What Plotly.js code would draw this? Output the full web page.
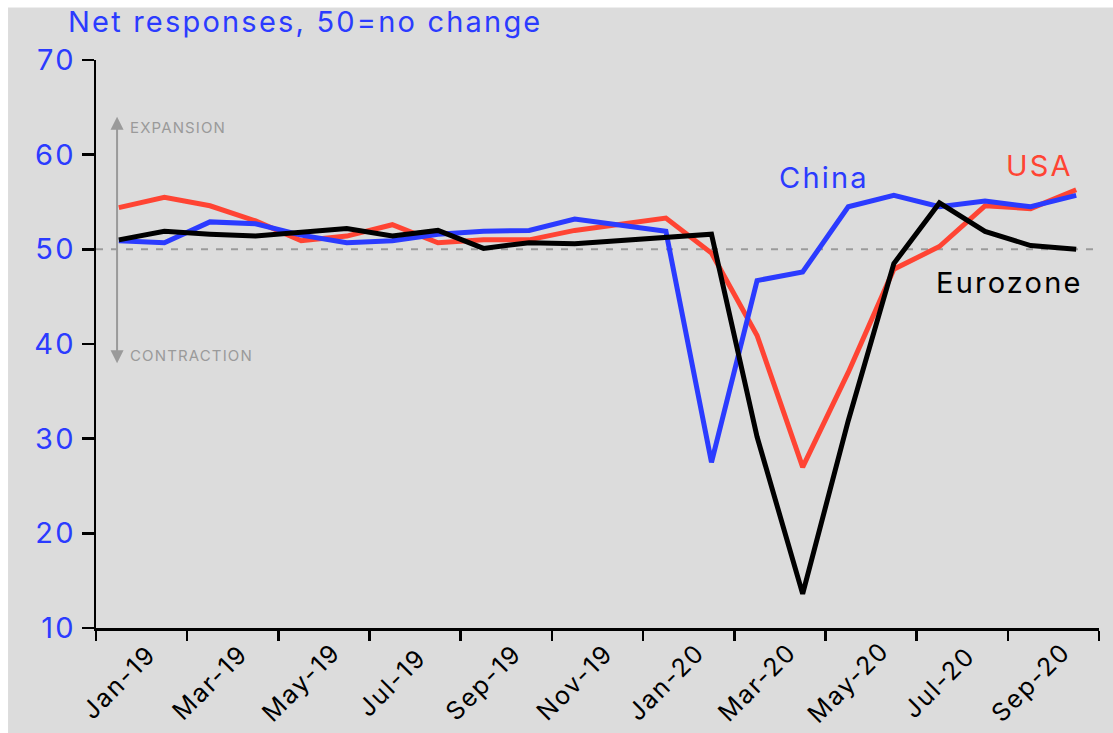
<!DOCTYPE html>
<html>
<head>
<meta charset="utf-8">
<script src="https://cdn.plot.ly/plotly-3.0.1.min.js"></script>
<style>
  html, body { margin: 0; padding: 0; background: #ffffff; }
  #chart { position: absolute; left: 0; top: 0; width: 1113px; height: 733px; }
  /* slightly open tracking for all chart text */
  svg text { letter-spacing: 0.076em; }
</style>
</head>
<body>
<div id="chart"></div>
<script>
// Composite PMI, monthly, Jan 2019 – Oct 2020
const months = ['Jan-19','Feb-19','Mar-19','Apr-19','May-19','Jun-19','Jul-19','Aug-19','Sep-19','Oct-19','Nov-19','Dec-19',
                'Jan-20','Feb-20','Mar-20','Apr-20','May-20','Jun-20','Jul-20','Aug-20','Sep-20','Oct-20'];
const china    = [50.9, 50.7, 52.9, 52.7, 51.5, 50.7, 50.9, 51.6, 51.9, 52.0, 53.2, 52.6, 51.9, 27.5, 46.7, 47.6, 54.5, 55.7, 54.5, 55.1, 54.5, 55.7];
const usa      = [54.4, 55.5, 54.6, 53.0, 50.9, 51.4, 52.6, 50.7, 51.0, 51.0, 52.0, 52.7, 53.3, 49.6, 40.9, 27.0, 37.0, 47.9, 50.3, 54.6, 54.3, 56.3];
const eurozone = [51.0, 51.9, 51.6, 51.4, 51.8, 52.2, 51.4, 52.0, 50.1, 50.7, 50.6, 50.9, 51.3, 51.6, 30.2, 13.6, 31.9, 48.5, 54.9, 51.9, 50.4, 50.0];
const noChange = 50;

const BLUE = '#2b3bff', RED = '#ff4433', BLACK = '#000000', GREY = '#9a9a9a', BG = '#dcdcdc';
const FONT = 'Inter, "Liberation Sans", Arial, sans-serif';

const idx = months.map((m, i) => i);
const labelIdx = idx.filter(i => i % 2 === 0);

function series(name, y, color) {
  return { type: 'scatter', mode: 'lines', name: name, x: idx, y: y,
           line: { color: color, width: 5 }, hoverinfo: 'skip' };
}

const data = [
  series('USA', usa, RED),
  series('China', china, BLUE),
  series('Eurozone', eurozone, BLACK)
];

// month labels: rotated, centred under each labelled month
const monthLabels = labelIdx.map(i => ({
  xref: 'x', yref: 'paper', x: i, y: -0.0951, xanchor: 'center', yanchor: 'middle',
  textangle: -45, showarrow: false, text: months[i],
  font: { family: FONT, size: 25, color: BLACK }
}));

const layout = {
  width: 1113, height: 733,
  margin: { l: 96, r: 14, t: 60, b: 105 },
  paper_bgcolor: BG, plot_bgcolor: BG,
  showlegend: false,
  font: { family: FONT, color: BLACK },
  title: {
    text: 'Net responses, 50=no change',
    font: { family: FONT, size: 29, color: BLUE },
    xref: 'container', yref: 'container', x: 0.0611, xanchor: 'left', y: 0.970, yanchor: 'middle'
  },
  xaxis: {
    range: [-0.5, months.length - 0.5], fixedrange: true,
    showline: true, linecolor: BLACK, linewidth: 2.5,
    showgrid: false, zeroline: false,
    tickmode: 'array', tickvals: labelIdx, ticktext: labelIdx.map(() => ''),
    ticks: '', showticklabels: false,
    minor: { tickmode: 'linear', tick0: -0.5, dtick: 2, ticks: 'outside', ticklen: 10, tickwidth: 2.5, tickcolor: BLACK, showgrid: false }
  },
  yaxis: {
    range: [10, 70], fixedrange: true,
    tickmode: 'linear', tick0: 10, dtick: 10,
    showline: true, linecolor: BLACK, linewidth: 2.5,
    showgrid: false, zeroline: false,
    ticks: 'outside', ticklen: 12, tickwidth: 2.5, tickcolor: BLACK,
    tickfont: { family: FONT, size: 29, color: BLUE }
  },
  shapes: [
    { type: 'line', layer: 'below', xref: 'paper', yref: 'y', x0: 0, x1: 1, y0: noChange, y1: noChange,
      line: { color: GREY, width: 2, dash: '7px,8px' } },
    // white frame along the top and left edges
    { type: 'rect', layer: 'above', xref: 'paper', yref: 'paper', x0: -0.12, x1: 1.05, y0: 1.0924, y1: 1.12,
      fillcolor: '#ffffff', line: { width: 0 } },
    { type: 'rect', layer: 'above', xref: 'paper', yref: 'paper', x0: -0.12, x1: -0.0877, y0: -0.25, y1: 1.12,
      fillcolor: '#ffffff', line: { width: 0 } }
  ],
  annotations: [
    // expansion / contraction double arrow
    { xref: 'paper', yref: 'paper', x: 0.021, y: 0.90, ax: 0, ay: 248, axref: 'pixel', ayref: 'pixel',
      text: '', showarrow: true, arrowside: 'end+start', arrowhead: 2, arrowsize: 1.3, arrowwidth: 2, arrowcolor: GREY },
    { xref: 'paper', yref: 'paper', x: 0.032, y: 0.882, xanchor: 'left', yanchor: 'middle', showarrow: false,
      text: 'EXPANSION', font: { family: FONT, size: 15, color: GREY } },
    { xref: 'paper', yref: 'paper', x: 0.032, y: 0.479, xanchor: 'left', yanchor: 'middle', showarrow: false,
      text: 'CONTRACTION', font: { family: FONT, size: 15, color: GREY } },
    // series labels
    { xref: 'x', yref: 'y', x: 15.46, y: 57.6, xanchor: 'center', yanchor: 'middle', showarrow: false,
      text: 'China', font: { family: FONT, size: 29, color: BLUE } },
    { xref: 'x', yref: 'y', x: 20.19, y: 58.9, xanchor: 'center', yanchor: 'middle', showarrow: false,
      text: 'USA', font: { family: FONT, size: 29, color: RED } },
    { xref: 'x', yref: 'y', x: 19.54, y: 46.5, xanchor: 'center', yanchor: 'middle', showarrow: false,
      text: 'Eurozone', font: { family: FONT, size: 29, color: BLACK } }
  ].concat(monthLabels)
};

Plotly.newPlot('chart', data, layout, { displayModeBar: false, staticPlot: true });
</script>
</body>
</html>
